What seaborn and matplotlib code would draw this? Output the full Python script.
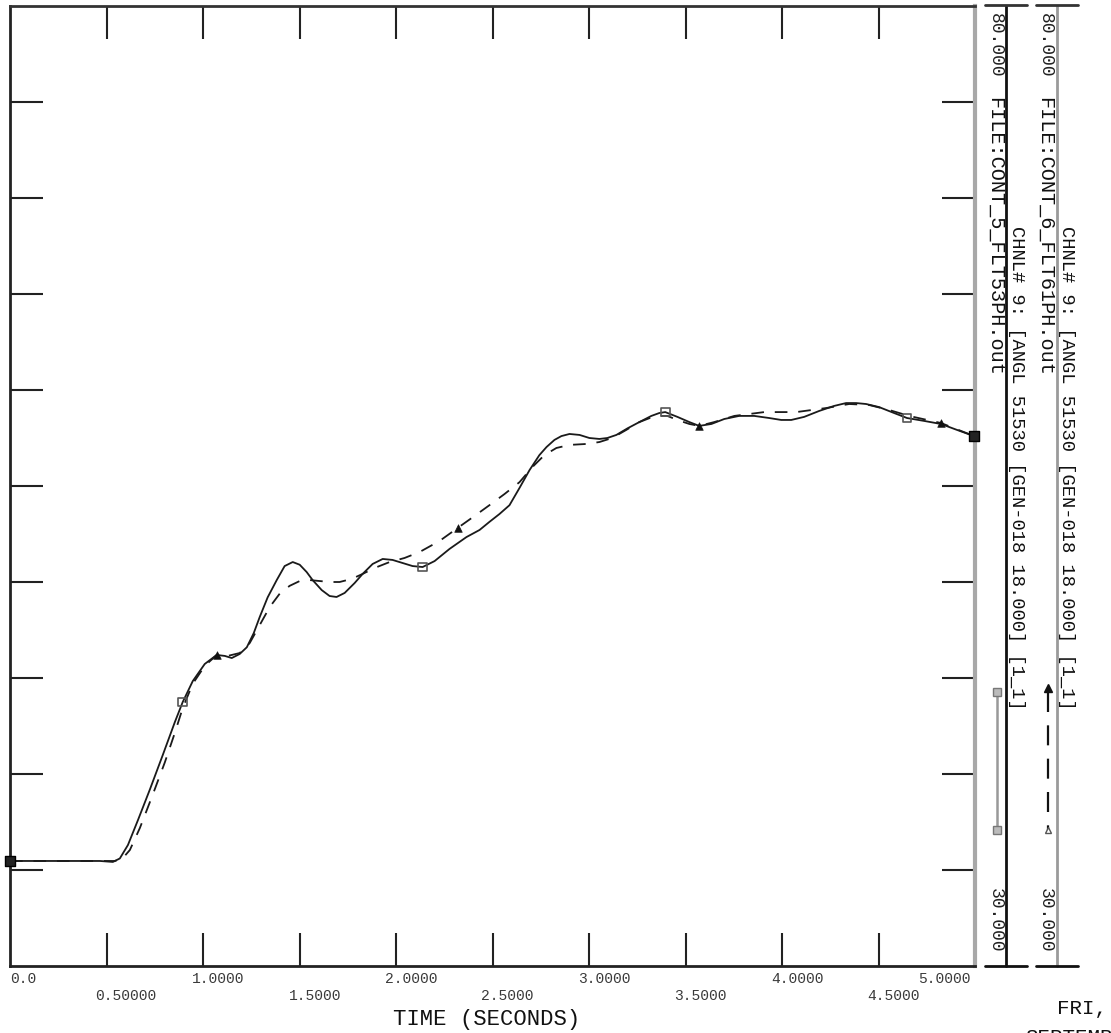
import numpy as np
import pandas as pd
import matplotlib
matplotlib.use("Agg")
import matplotlib.pyplot as plt
import matplotlib.transforms as mtransforms
from matplotlib.lines import Line2D
import seaborn as sns

# ---------------- data ----------------
time_a = [0.0, 0.259, 0.466, 0.533, 0.569, 0.611, 0.663, 0.725, 0.792, 0.854, 0.895, 0.947,
          1.009, 1.071, 1.113, 1.149, 1.19, 1.227, 1.263, 1.294, 1.335, 1.382, 1.423, 1.465,
          1.501, 1.537, 1.568, 1.615, 1.656, 1.692, 1.734, 1.786, 1.827, 1.879, 1.931, 1.982,
          2.034, 2.086, 2.138, 2.2, 2.277, 2.365, 2.433, 2.484, 2.536, 2.588, 2.64, 2.692,
          2.743, 2.78, 2.821, 2.857, 2.899, 2.951, 3.002, 3.054, 3.095, 3.142, 3.199, 3.261,
          3.323, 3.364, 3.395, 3.458, 3.52, 3.571, 3.634, 3.701, 3.778, 3.856, 3.934, 3.996,
          4.048, 4.115, 4.193, 4.27, 4.332, 4.384, 4.436, 4.503, 4.581, 4.648, 4.736, 4.824,
          4.907, 4.995]
angle_a = [35.47, 35.47, 35.47, 35.42, 35.6, 36.3, 37.6, 39.2, 41.0, 42.7, 43.75, 44.84,
           45.73, 46.2, 46.15, 46.04, 46.25, 46.6, 47.34, 48.18, 49.2, 50.1, 50.83, 51.04,
           50.9, 50.52, 50.1, 49.58, 49.27, 49.22, 49.43, 49.95, 50.42, 50.94, 51.2, 51.15,
           50.99, 50.83, 50.78, 51.09, 51.72, 52.34, 52.71, 53.13, 53.54, 54.0, 54.9, 55.83,
           56.61, 57.03, 57.4, 57.6, 57.71, 57.66, 57.5, 57.45, 57.5, 57.66, 58.0, 58.33,
           58.65, 58.8, 58.85, 58.6, 58.33, 58.13, 58.23, 58.49, 58.65, 58.65, 58.54, 58.44,
           58.44, 58.6, 58.91, 59.17, 59.32, 59.32, 59.27, 59.11, 58.8, 58.54, 58.39, 58.23,
           57.92, 57.6]

time_b = [0.0, 0.3, 0.543, 0.58, 0.621, 0.673, 0.735, 0.802, 0.854, 0.895, 0.947, 1.009,
          1.071, 1.128, 1.19, 1.242, 1.294, 1.346, 1.398, 1.449, 1.501, 1.553, 1.605, 1.656,
          1.708, 1.77, 1.827, 1.889, 1.967, 2.044, 2.122, 2.226, 2.319, 2.407, 2.484, 2.562,
          2.64, 2.707, 2.769, 2.831, 2.899, 2.987, 3.054, 3.12, 3.193, 3.261, 3.343, 3.406,
          3.458, 3.52, 3.571, 3.649, 3.753, 3.908, 4.074, 4.229, 4.348, 4.451, 4.555, 4.658,
          4.824, 4.995]
angle_b = [35.47, 35.47, 35.47, 35.57, 36.04, 37.19, 38.8, 40.6, 42.14, 43.44, 44.7, 45.63,
           46.2, 46.15, 46.3, 46.82, 47.76, 48.7, 49.4, 49.8, 50.05, 50.1, 50.05, 50.0,
           50.0, 50.16, 50.42, 50.73, 51.04, 51.25, 51.56, 52.14, 52.81, 53.44, 54.0, 54.58,
           55.2, 55.99, 56.61, 56.98, 57.14, 57.19, 57.29, 57.5, 57.92, 58.33, 58.65, 58.65,
           58.44, 58.23, 58.13, 58.33, 58.65, 58.85, 58.85, 59.06, 59.27, 59.22, 58.96, 58.65,
           58.28, 57.6]

# symbol positions
sq_time = [0.895, 2.138, 3.395, 4.648]
sq_angle = [43.75, 50.78, 58.85, 58.54]
tri_time = [1.071, 2.319, 3.571, 4.824]
tri_angle = [46.2, 52.81, 58.13, 58.28]
end_time = [0.0, 4.995]
end_angle = [35.47, 57.6]

xtick_values = [0.0, 0.5, 1.0, 1.5, 2.0, 2.5, 3.0, 3.5, 4.0, 4.5, 5.0]
xtick_labels = ["0.0", "0.50000", "1.0000", "1.5000", "2.0000", "2.5000",
                "3.0000", "3.5000", "4.0000", "4.5000", "5.0000"]
ytick_values = [35, 40, 45, 50, 55, 60, 65, 70, 75]
x_title = "TIME (SECONDS)"

legend_files = ["FILE:CONT_5_FLT53PH.out", "FILE:CONT_6_FLT61PH.out"]
legend_chnl = ["CHNL# 9: [ANGL 51530 [GEN-018 18.000] [1_1]",
               "CHNL# 9: [ANGL 51530 [GEN-018 18.000] [1_1]"]
legend_top = "80.000"
legend_bottom = "30.000"
date_text = ["FRI,", "SEPTEMBER"]

# ---------------- figure ----------------
sns.set_theme(style="white")
plt.rcParams["font.family"] = ["Liberation Mono", "DejaVu Sans Mono"]

W, H = 1111, 1033
fig = plt.figure(figsize=(W / 100, H / 100), dpi=100)
fig.patch.set_facecolor("white")


def fx(px):
    return px / W


def fy(py):
    return 1 - py / H


L, R, T, B = 10, 975, 6, 966
ax = fig.add_axes([fx(L), fy(B), fx(R) - fx(L), fy(T) - fy(B)])
ax.set_facecolor("white")

df_a = pd.DataFrame({"t": time_a, "v": angle_a})
df_b = pd.DataFrame({"t": time_b, "v": angle_b})
sns.lineplot(data=df_a, x="t", y="v", ax=ax, color="#1a1a1a", linewidth=1.3,
             sort=False, estimator=None)
sns.lineplot(data=df_b, x="t", y="v", ax=ax, color="#1a1a1a", linewidth=1.3,
             sort=False, estimator=None, linestyle=(0, (7, 6)))

sns.scatterplot(x=sq_time, y=sq_angle, ax=ax, marker="s", s=40,
                facecolor="none", edgecolor="#555555", linewidth=1.2, zorder=5)
sns.scatterplot(x=tri_time, y=tri_angle, ax=ax, marker="^", s=30,
                color="#111111", edgecolor="#111111", zorder=5)
sns.scatterplot(x=end_time, y=end_angle, ax=ax, marker="s", s=55,
                color="#222222", edgecolor="#000000", linewidth=1.0, zorder=6,
                clip_on=False)

ax.set_xlim(0, 5.0)
ax.set_ylim(30, 80)
ax.set_xlabel("")
ax.set_ylabel("")

ax.set_xticks(xtick_values[1:-1])
ax.set_yticks(ytick_values)
ax.tick_params(axis="x", direction="in", length=24, width=1.5, color="#222222",
               top=True, bottom=True, labelbottom=False, labeltop=False)
ax.tick_params(axis="y", direction="in", length=24, width=1.5, color="#222222",
               left=True, right=True, labelleft=False, labelright=False)

for side, col, lw in [("left", "#222222", 2.0), ("top", "#333333", 2.0),
                      ("bottom", "#222222", 2.0), ("right", "#a8a8a8", 3.0)]:
    ax.spines[side].set_visible(True)
    ax.spines[side].set_color(col)
    ax.spines[side].set_linewidth(lw)

# x tick labels (two staggered rows)
xt = ax.get_xaxis_transform()
for i, (v, lab) in enumerate(zip(xtick_values, xtick_labels)):
    row_y = 979 if i % 2 == 0 else 996
    if i == 0:
        ha, dx = "left", 0
    elif i == len(xtick_values) - 1:
        ha, dx = "right", -4
    else:
        ha, dx = "left", -11
    tr = mtransforms.offset_copy(xt, fig=fig, x=dx, y=0, units="dots")
    tr2 = mtransforms.blended_transform_factory(tr, fig.transFigure)
    ax.text(v, fy(row_y), lab, transform=tr2, ha=ha, va="center",
            fontsize=10.5, color="#3a3a3a")

fig.text(fx(487), fy(1020), x_title, ha="center", va="center", fontsize=16,
         color="#111111")

# ---------------- legend panels ----------------
cols = [(1006, "#111111", 995, 1016, 997, "-", "#999999"),
        (1057, "#9a9a9a", 1045, 1066, 1048, (0, (9, 6)), "#111111")]
for k, (lx, lcol, tx, cx, sx, ls, scol) in enumerate(cols):
    fig.add_artist(Line2D([fx(lx), fx(lx)], [fy(T), fy(B)], color=lcol, lw=2.0))
    fig.add_artist(Line2D([fx(lx - 21), fx(lx + 21)], [fy(5), fy(5)],
                          color="#333333", lw=2.0))
    fig.add_artist(Line2D([fx(lx - 21), fx(lx + 21)], [fy(B), fy(B)],
                          color="#111111", lw=2.0))
    fig.text(fx(tx), fy(13), legend_top, rotation=-90, ha="center", va="top",
             fontsize=13, color="#222222")
    fig.text(fx(tx), fy(888), legend_bottom, rotation=-90, ha="center", va="top",
             fontsize=13, color="#222222")
    fig.text(fx(tx), fy(97), legend_files[k], rotation=-90, ha="center", va="top",
             fontsize=14.6, color="#111111")
    fig.text(fx(cx), fy(226), legend_chnl[k], rotation=-90, ha="center", va="top",
             fontsize=13.5, color="#111111")
    # line sample
    fig.add_artist(Line2D([fx(sx), fx(sx)], [fy(692), fy(830)], color=scol,
                          lw=1.8 if k == 0 else 1.6, linestyle=ls))
    if k == 0:
        for yy in (692, 830):
            fig.add_artist(Line2D([fx(sx)], [fy(yy)], marker="s", markersize=6,
                                  markerfacecolor="#bbbbbb",
                                  markeredgecolor="#777777"))
    else:
        fig.add_artist(Line2D([fx(sx)], [fy(688)], marker="^", markersize=6,
                              color="#111111"))
        fig.add_artist(Line2D([fx(sx)], [fy(830)], marker="^", markersize=5,
                              markerfacecolor="white", markeredgecolor="#555555"))

fig.text(fx(1057), fy(1008), date_text[0], ha="left", va="center", fontsize=15,
         color="#111111")
fig.text(fx(1025), fy(1028), date_text[1], ha="left", va="top", fontsize=15,
         color="#111111")

fig.savefig("out.png", dpi=100, facecolor="white")
